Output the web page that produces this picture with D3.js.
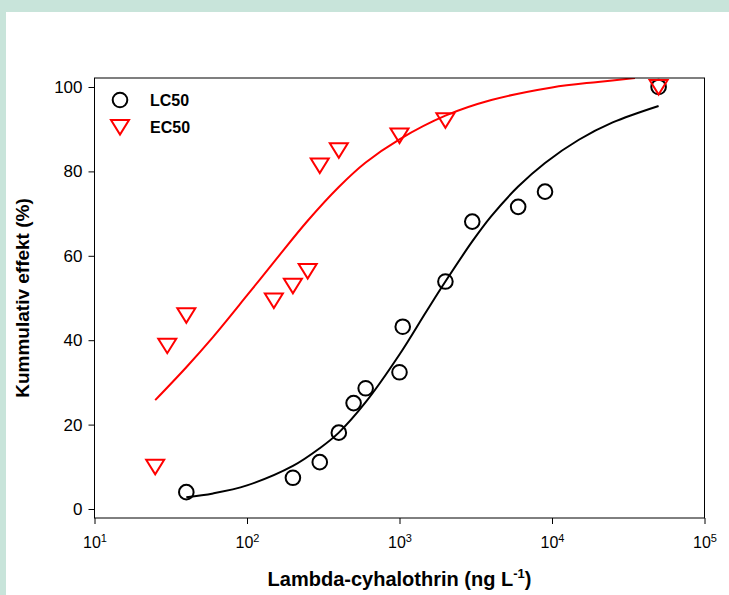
<!DOCTYPE html>
<html>
<head>
<meta charset="utf-8">
<script src="https://cdn.jsdelivr.net/npm/d3@7"></script>
<style>
  body { margin: 0; background: #c8e4da; }
  svg { display: block; font-family: Arial, "Liberation Sans", sans-serif; }
</style>
</head>
<body>
<svg id="chart" width="729" height="595"></svg>
<script>
// Observed mortality (LC50) and effect (EC50) data
const lcConc   = [40, 200, 300, 400, 500, 600, 1000, 1050, 2000, 3000, 6000, 9000, 50000];
const lcEffect = [4, 7.4, 11.1, 18.1, 25.1, 28.6, 32.4, 43.2, 53.9, 68.1, 71.6, 75.2, 100];
const ecConc   = [25, 30, 40, 150, 200, 250, 300, 400, 1000, 2000, 50000];
const ecEffect = [10, 38.7, 45.9, 49.4, 52.9, 56.4, 81.4, 85, 88.5, 92.1, 100];

// Fitted dose-response curves
const lcFitConc   = [40, 60, 100, 200, 300, 400, 600, 1000, 1500, 2000, 3000, 4000, 6000, 9000, 15000, 25000, 50000];
const lcFitEffect = [2.8, 3.7, 5.6, 10.2, 14.4, 18.1, 25.3, 36.6, 46.8, 53.9, 63.4, 69.4, 76.4, 82.0, 87.5, 91.6, 95.5];
const ecFitConc   = [25, 40, 60, 100, 150, 250, 400, 600, 1000, 2000, 4000, 10000, 20000, 35000];
const ecFitEffect = [25.8, 33.6, 40.8, 50.6, 58.5, 68.3, 76.3, 82.1, 87.6, 93.2, 96.9, 99.9, 101.2, 102.1];

const xTicks = [10, 100, 1000, 10000, 100000];
const yTicks = [0, 20, 40, 60, 80, 100];

const legendLabels = ["LC50", "EC50"];

const W = 729, H = 595;
const plot = { left: 94.5, right: 704.5, top: 78, bottom: 518 };
const FONT = "Arial, 'Liberation Sans', sans-serif";

const svg = d3.select("#chart");

// white panel
svg.append("rect").attr("x", 6).attr("y", 12).attr("width", W - 6).attr("height", H - 12).attr("fill", "#ffffff");

const x = d3.scaleLog().domain([10, 100000]).range([plot.left, plot.right]);
const y = d3.scaleLinear().domain([-2.13, 102.13]).range([plot.bottom, plot.top]);

// curves (clipped to the plotting area)
svg.append("clipPath").attr("id", "plotClip")
  .append("rect").attr("x", plot.left).attr("y", plot.top)
  .attr("width", plot.right - plot.left).attr("height", plot.bottom - plot.top);

const line = d3.line().x(d => x(d[0])).y(d => y(d[1])).curve(d3.curveCatmullRom.alpha(0.5));

const curves = svg.append("g").attr("clip-path", "url(#plotClip)");
curves.append("path")
  .datum(ecFitConc.map((c, i) => [c, ecFitEffect[i]]))
  .attr("d", line).attr("fill", "none").attr("stroke", "#ff0000").attr("stroke-width", 2);
curves.append("path")
  .datum(lcFitConc.map((c, i) => [c, lcFitEffect[i]]))
  .attr("d", line).attr("fill", "none").attr("stroke", "#000000").attr("stroke-width", 2);

// frame
svg.append("rect")
  .attr("x", plot.left).attr("y", plot.top)
  .attr("width", plot.right - plot.left).attr("height", plot.bottom - plot.top)
  .attr("fill", "none").attr("stroke", "#000").attr("stroke-width", 1);

// axes
const yAxis = svg.append("g").attr("transform", `translate(${plot.left},0)`)
  .call(d3.axisLeft(y).tickValues(yTicks).tickSize(6).tickPadding(6).tickFormat(d3.format("d")));
yAxis.select(".domain").remove();
yAxis.selectAll("text").attr("font-size", 17).attr("font-family", FONT).attr("fill", "#000");
yAxis.selectAll("line").attr("stroke", "#000");

const xAxis = svg.append("g").attr("transform", `translate(0,${plot.bottom})`)
  .call(d3.axisBottom(x).tickValues(xTicks).tickSize(6).tickPadding(13).tickFormat(() => ""));
xAxis.select(".domain").remove();
xAxis.selectAll("line").attr("stroke", "#000");
xAxis.selectAll(".tick text")
  .attr("font-size", 16).attr("font-family", FONT).attr("fill", "#000")
  .each(function (d) {
    const t = d3.select(this);
    t.append("tspan").text("10");
    t.append("tspan").attr("font-size", 11).attr("dy", "-0.55em").text(Math.round(Math.log10(d)));
  });

// markers
const tri = "M-9,-7L9,-7L0,7.5Z";
svg.append("g").selectAll("circle")
  .data(lcConc.map((c, i) => [c, lcEffect[i]]))
  .join("circle")
  .attr("cx", d => x(d[0])).attr("cy", d => y(d[1])).attr("r", 7.3)
  .attr("fill", "none").attr("stroke", "#000").attr("stroke-width", 2);
svg.append("g").selectAll("path")
  .data(ecConc.map((c, i) => [c, ecEffect[i]]))
  .join("path")
  .attr("transform", d => `translate(${x(d[0])},${y(d[1])})`)
  .attr("d", tri)
  .attr("fill", "none").attr("stroke", "#ff0000").attr("stroke-width", 2);

// legend
const lg = svg.append("g");
lg.append("circle").attr("cx", 120).attr("cy", 100).attr("r", 7.3)
  .attr("fill", "none").attr("stroke", "#000").attr("stroke-width", 2);
lg.append("path").attr("transform", "translate(120,127)").attr("d", tri)
  .attr("fill", "none").attr("stroke", "#ff0000").attr("stroke-width", 2);
lg.selectAll("text").data(legendLabels).join("text")
  .attr("x", 150).attr("y", (d, i) => 106 + i * 27)
  .attr("font-size", 16).attr("font-weight", "bold").attr("fill", "#000")
  .text(d => d);

// axis titles
const xt = svg.append("text")
  .attr("x", (plot.left + plot.right) / 2).attr("y", 586)
  .attr("text-anchor", "middle").attr("font-size", 20).attr("font-weight", "bold").attr("fill", "#000");
xt.append("tspan").text("Lambda-cyhalothrin (ng L");
xt.append("tspan").attr("font-size", 13).attr("dy", "-0.6em").text("-1");
xt.append("tspan").attr("dy", "0.39em").text(")");

svg.append("text")
  .attr("transform", `translate(29,${(plot.top + plot.bottom) / 2}) rotate(-90)`)
  .attr("text-anchor", "middle").attr("font-size", 19).attr("font-weight", "bold").attr("fill", "#000")
  .text("Kummulativ effekt (%)");
</script>
</body>
</html>
